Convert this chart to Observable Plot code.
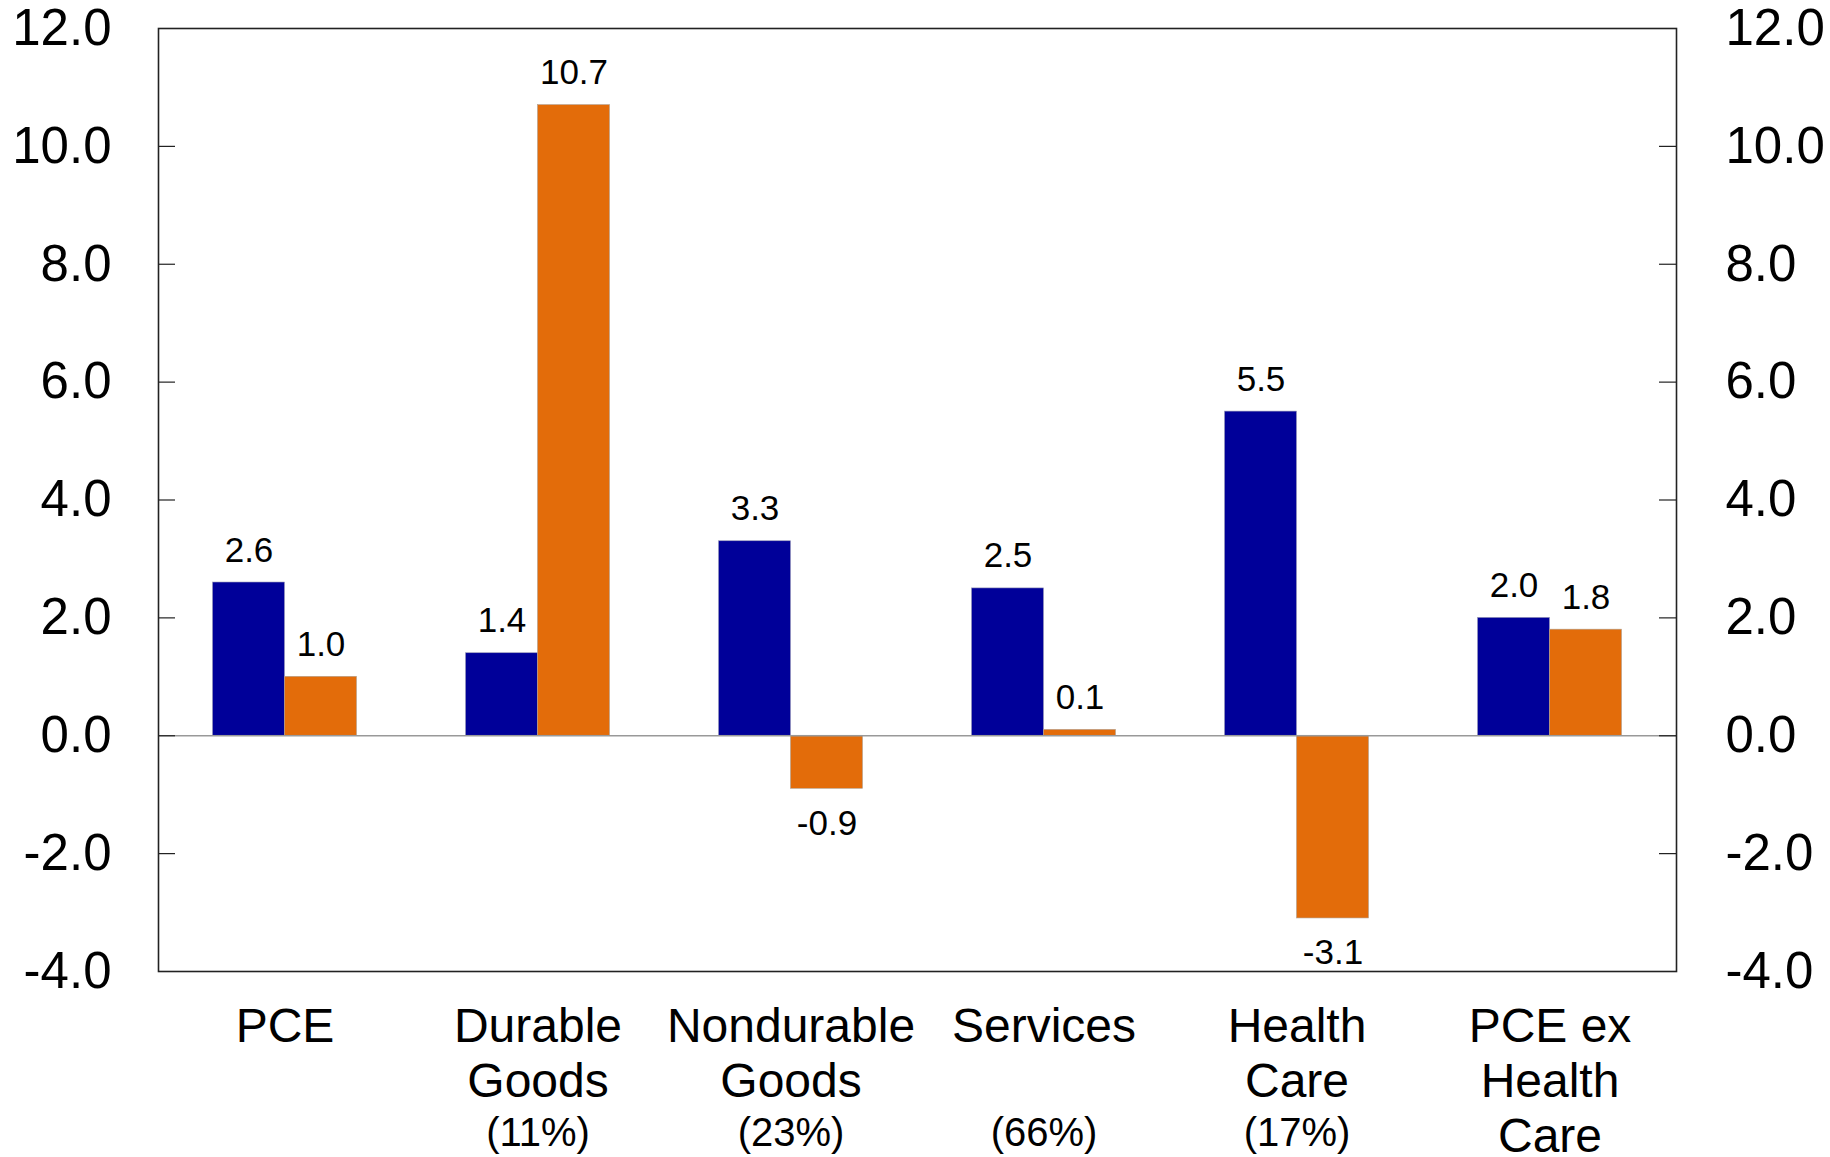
<!DOCTYPE html>
<html>
<head>
<meta charset="utf-8">
<script src="https://cdn.jsdelivr.net/npm/d3@7"></script>
<script src="https://cdn.jsdelivr.net/npm/@observablehq/plot@0.6"></script>
<style>
  html, body { margin: 0; padding: 0; background: #fff; }
  #chart { width: 1830px; height: 1157px; }
</style>
</head>
<body>
<div id="chart"></div>
<script>
// Spending categories, their share of spending, and the two series per category
const categories = [
  "PCE",
  "Durable\nGoods",
  "Nondurable\nGoods",
  "Services",
  "Health\nCare",
  "PCE ex\nHealth\nCare"
];
const shares = ["", "(11%)", "(23%)", "(66%)", "(17%)", ""];
const series1 = [2.6, 1.4, 3.3, 2.5, 5.5, 2.0];
const series2 = [1.0, 10.7, -0.9, 0.1, -3.1, 1.8];
const yTicks = [-4, -2, 0, 2, 4, 6, 8, 10, 12];

const seriesColors = { series1: "#000099", series2: "#E36C0A" };

const width = 1830, height = 1157;
const margin = { top: 28, right: 154, bottom: 186, left: 158 };
const plotWidth = width - margin.left - margin.right;
const tickLen = 17;

// long table: one row per bar
const rows = categories.flatMap((c, i) => [
  { category: c, series: "series1", value: series1[i] },
  { category: c, series: "series2", value: series2[i] }
]);

// each category band holds a pair of bars centred on the band
const bandHalf = plotWidth / categories.length / 2;
const barW = 72;
const offset = { series1: -barW / 2, series2: barW / 2 };

const innerTicks = yTicks.filter(t => t > -4 && t < 12);
const fmt = d => d.toFixed(1);

// value labels: above positive bars, below negative bars, centred on each bar
function valueLabels(series) {
  const data = rows.filter(d => d.series === series);
  const common = { x: "category", y: "value", text: d => fmt(d.value), dx: offset[series], fontSize: 35, fill: "#000" };
  return [
    Plot.text(data.filter(d => d.value >= 0), { ...common, dy: -21, lineAnchor: "bottom" }),
    Plot.text(data.filter(d => d.value < 0), { ...common, dy: 21, lineAnchor: "top" })
  ];
}

const shareRows = categories.map((c, i) => ({ category: c, share: shares[i] })).filter(d => d.share);

const chart = Plot.plot({
  width, height,
  marginTop: margin.top, marginRight: margin.right,
  marginBottom: margin.bottom, marginLeft: margin.left,
  style: { fontFamily: "'Liberation Sans', Arial, sans-serif", background: "#fff", color: "#000" },
  x: { domain: categories, padding: 0, axis: null },
  y: { domain: [-4, 12], axis: null },
  marks: [
    // bars: blue on the left half, orange on the right half of each band
    Plot.barY(rows.filter(d => d.series === "series1"), {
      x: "category", y: "value",
      fill: seriesColors.series1, stroke: "#9a9ab8", strokeWidth: 0.6,
      insetLeft: bandHalf - barW, insetRight: bandHalf
    }),
    Plot.barY(rows.filter(d => d.series === "series2"), {
      x: "category", y: "value",
      fill: seriesColors.series2, stroke: "#b0a090", strokeWidth: 0.6,
      insetLeft: bandHalf, insetRight: bandHalf - barW
    }),
    // zero line
    Plot.ruleY([0], { stroke: "#999", strokeWidth: 1.5 }),
    // inward ticks on both sides
    Plot.tickY(innerTicks, { y: d => d, insetRight: plotWidth - tickLen, stroke: "#222", strokeWidth: 1.2 }),
    Plot.tickY(innerTicks, { y: d => d, insetLeft: plotWidth - tickLen, stroke: "#222", strokeWidth: 1.2 }),
    Plot.frame({ stroke: "#222", strokeWidth: 1.6 }),
    ...valueLabels("series1"),
    ...valueLabels("series2"),
    // y axes on both sides
    Plot.axisY(yTicks, { anchor: "left", tickSize: 0, tickPadding: 47, fontSize: 51, tickFormat: fmt, label: null }),
    Plot.axisY(yTicks, { anchor: "right", tickSize: 0, tickPadding: 49, fontSize: 51, tickFormat: fmt, label: null }),
    // category names
    Plot.text(categories, {
      x: d => d, frameAnchor: "bottom", lineAnchor: "top", dy: 32,
      fontSize: 48, lineHeight: 1.14, fill: "#000"
    }),
    // share of spending, on the third line in a smaller size
    Plot.text(shareRows, {
      x: "category", text: "share", frameAnchor: "bottom", lineAnchor: "middle", dy: 162,
      fontSize: 40, fill: "#000"
    })
  ]
});

document.getElementById("chart").appendChild(chart);
</script>
</body>
</html>
